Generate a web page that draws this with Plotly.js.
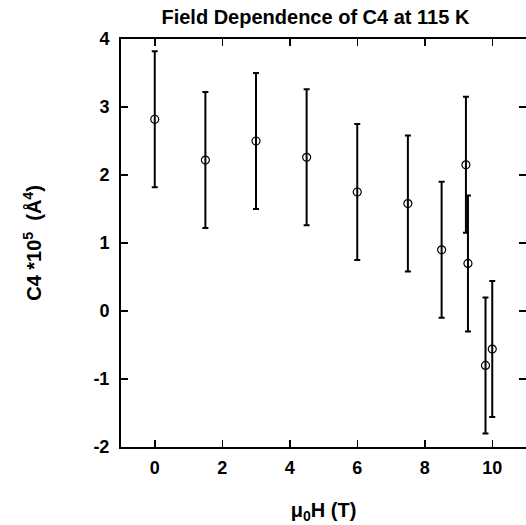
<!DOCTYPE html>
<html>
<head>
<meta charset="utf-8">
<script src="https://cdn.plot.ly/plotly-3.0.1.min.js"></script>
<style>html,body{margin:0;padding:0;background:#fff;}#chart{width:526px;height:525px;}</style>
</head>
<body>
<div id="chart"></div>
<script>
const fieldT = [0, 1.5, 3, 4.5, 6, 7.5, 8.5, 9.22, 9.28, 9.8, 10];
const c4Values = [2.82, 2.22, 2.5, 2.26, 1.75, 1.58, 0.9, 2.15, 0.7, -0.8, -0.56];
const c4Errors = [1.0, 1.0, 1.0, 1.0, 1.0, 1.0, 1.0, 1.0, 1.0, 1.0, 1.0];
const xTicks = [0, 2, 4, 6, 8, 10];
const yTicks = [-2, -1, 0, 1, 2, 3, 4];

const FONT = 'Liberation Sans, Arial, Helvetica, sans-serif';

const trace = {
  x: fieldT,
  y: c4Values,
  type: 'scatter',
  mode: 'markers',
  marker: {symbol: 'circle-open', size: 8, color: '#000', line: {width: 1.2, color: '#000'}},
  error_y: {type: 'data', array: c4Errors, visible: true, color: '#000', thickness: 2, width: 3},
  showlegend: false
};

const layout = {
  width: 526,
  height: 525,
  paper_bgcolor: '#fff',
  plot_bgcolor: '#fff',
  margin: {l: 121, r: 0, t: 39, b: 78},
  font: {family: FONT, color: '#000', size: 18},
  title: {
    text: '<b>Field Dependence of C4 at 115 K</b>',
    font: {family: FONT, size: 20, color: '#000'},
    x: 0.48, xanchor: 'center', xref: 'paper',
    y: 1 - 17/525, yanchor: 'middle', yref: 'container'
  },
  xaxis: {
    range: [-1, 11],
    tickvals: xTicks,
    ticktext: xTicks.map(v => '<b>' + v + '</b>'),
    ticks: 'inside', ticklen: 7, tickwidth: 1.5, tickcolor: '#000',
    showline: true, linewidth: 2, linecolor: '#000', mirror: 'ticks',
    showgrid: false, zeroline: false,
    tickfont: {family: FONT, size: 18, color: '#000'},
    ticklabelstandoff: 3,
    title: {text: '<b>μ<sub>0</sub>H (T)</b>', font: {family: FONT, size: 20, color: '#000'}, standoff: 26}
  },
  yaxis: {
    range: [-2, 4],
    tickvals: yTicks,
    ticktext: yTicks.map(v => '<b>' + v + '</b>'),
    ticks: 'inside', ticklen: 7, tickwidth: 1.5, tickcolor: '#000',
    showline: true, linewidth: 2, linecolor: '#000', mirror: 'ticks',
    showgrid: false, zeroline: false,
    tickfont: {family: FONT, size: 18, color: '#000'},
    ticklabelstandoff: 6,
    title: {text: '<b>C4 *10<sup>5</sup>  (Å<sup>4</sup>)</b>', font: {family: FONT, size: 20, color: '#000'}, standoff: 46}
  }
};

Plotly.newPlot('chart', [trace], layout, {displayModeBar: false, staticPlot: true});
</script>
</body>
</html>
